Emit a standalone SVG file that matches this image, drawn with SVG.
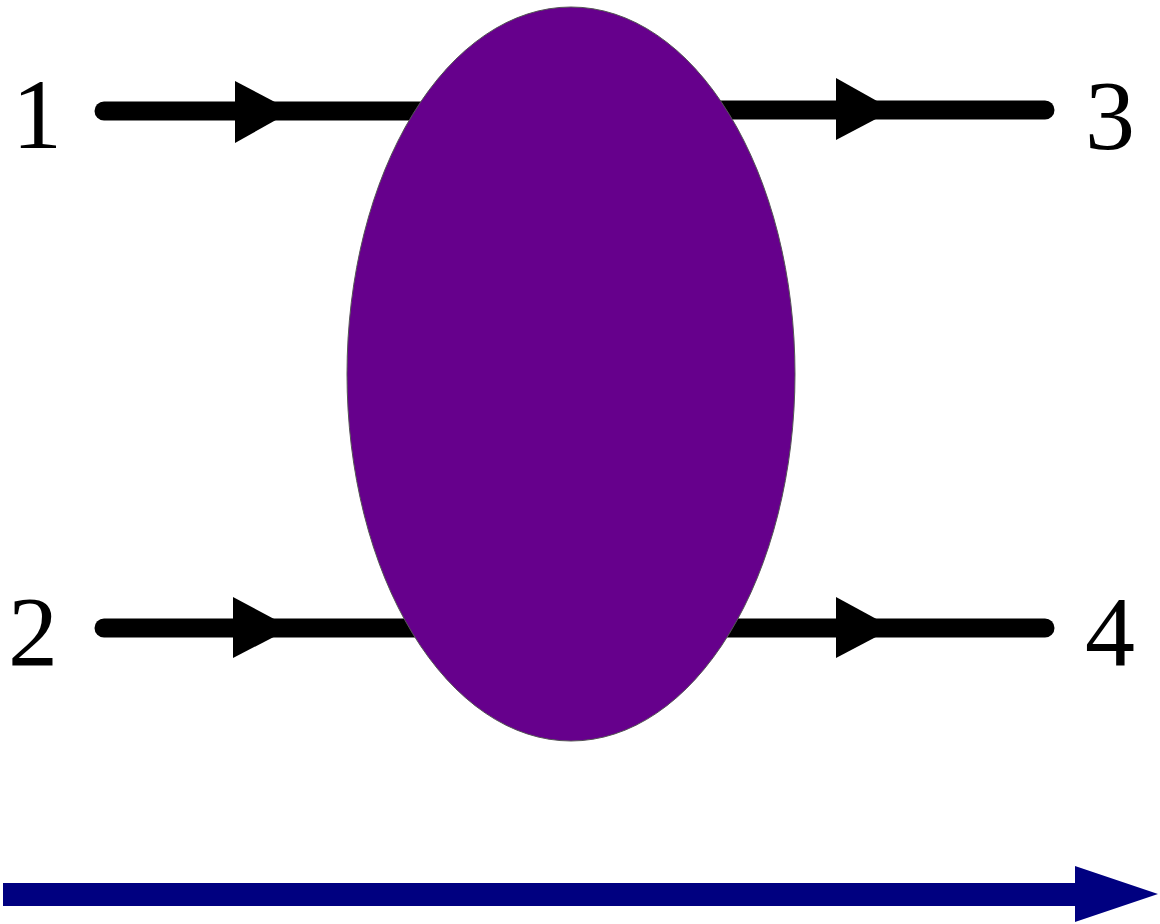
<svg xmlns="http://www.w3.org/2000/svg" width="1160" height="924" viewBox="0 0 1160 924">
<style>
.line{stroke:#000;stroke-width:19;stroke-linecap:round;fill:none}
.head{fill:#000}
.lbl{font-family:"Liberation Serif","DejaVu Serif",serif;font-size:100px;fill:#000}
</style>
<rect width="1160" height="924" fill="#fff"/>
<g id="connectors">
<line class="line" x1="104" y1="111" x2="420" y2="111"/>
<polygon class="head" points="235,81 292,111 235,143"/>
<line class="line" x1="104" y1="628" x2="420" y2="628"/>
<polygon class="head" points="233,597 291,628 233,658"/>
<line class="line" x1="720" y1="110" x2="1045" y2="110"/>
<polygon class="head" points="836,78 893,110 836,140"/>
<line class="line" x1="720" y1="628" x2="1045" y2="628"/>
<polygon class="head" points="836,597 893,628 836,658"/>
</g>
<g id="blob">
<ellipse cx="571" cy="374" rx="224" ry="367" fill="#66008c" stroke="#555" stroke-width="1"/>
</g>
<g id="label1"><text class="lbl" x="12" y="148">1</text></g>
<g id="label2"><text class="lbl" x="8" y="665">2</text></g>
<g id="label3"><text class="lbl" x="1085" y="149">3</text></g>
<g id="label4"><text class="lbl" x="1085" y="665">4</text></g>
<g id="time-arrow">
<polygon fill="#000080" points="3,883 1075,883 1075,866 1158,894 1075,922 1075,906 3,906"/>
</g>
</svg>
